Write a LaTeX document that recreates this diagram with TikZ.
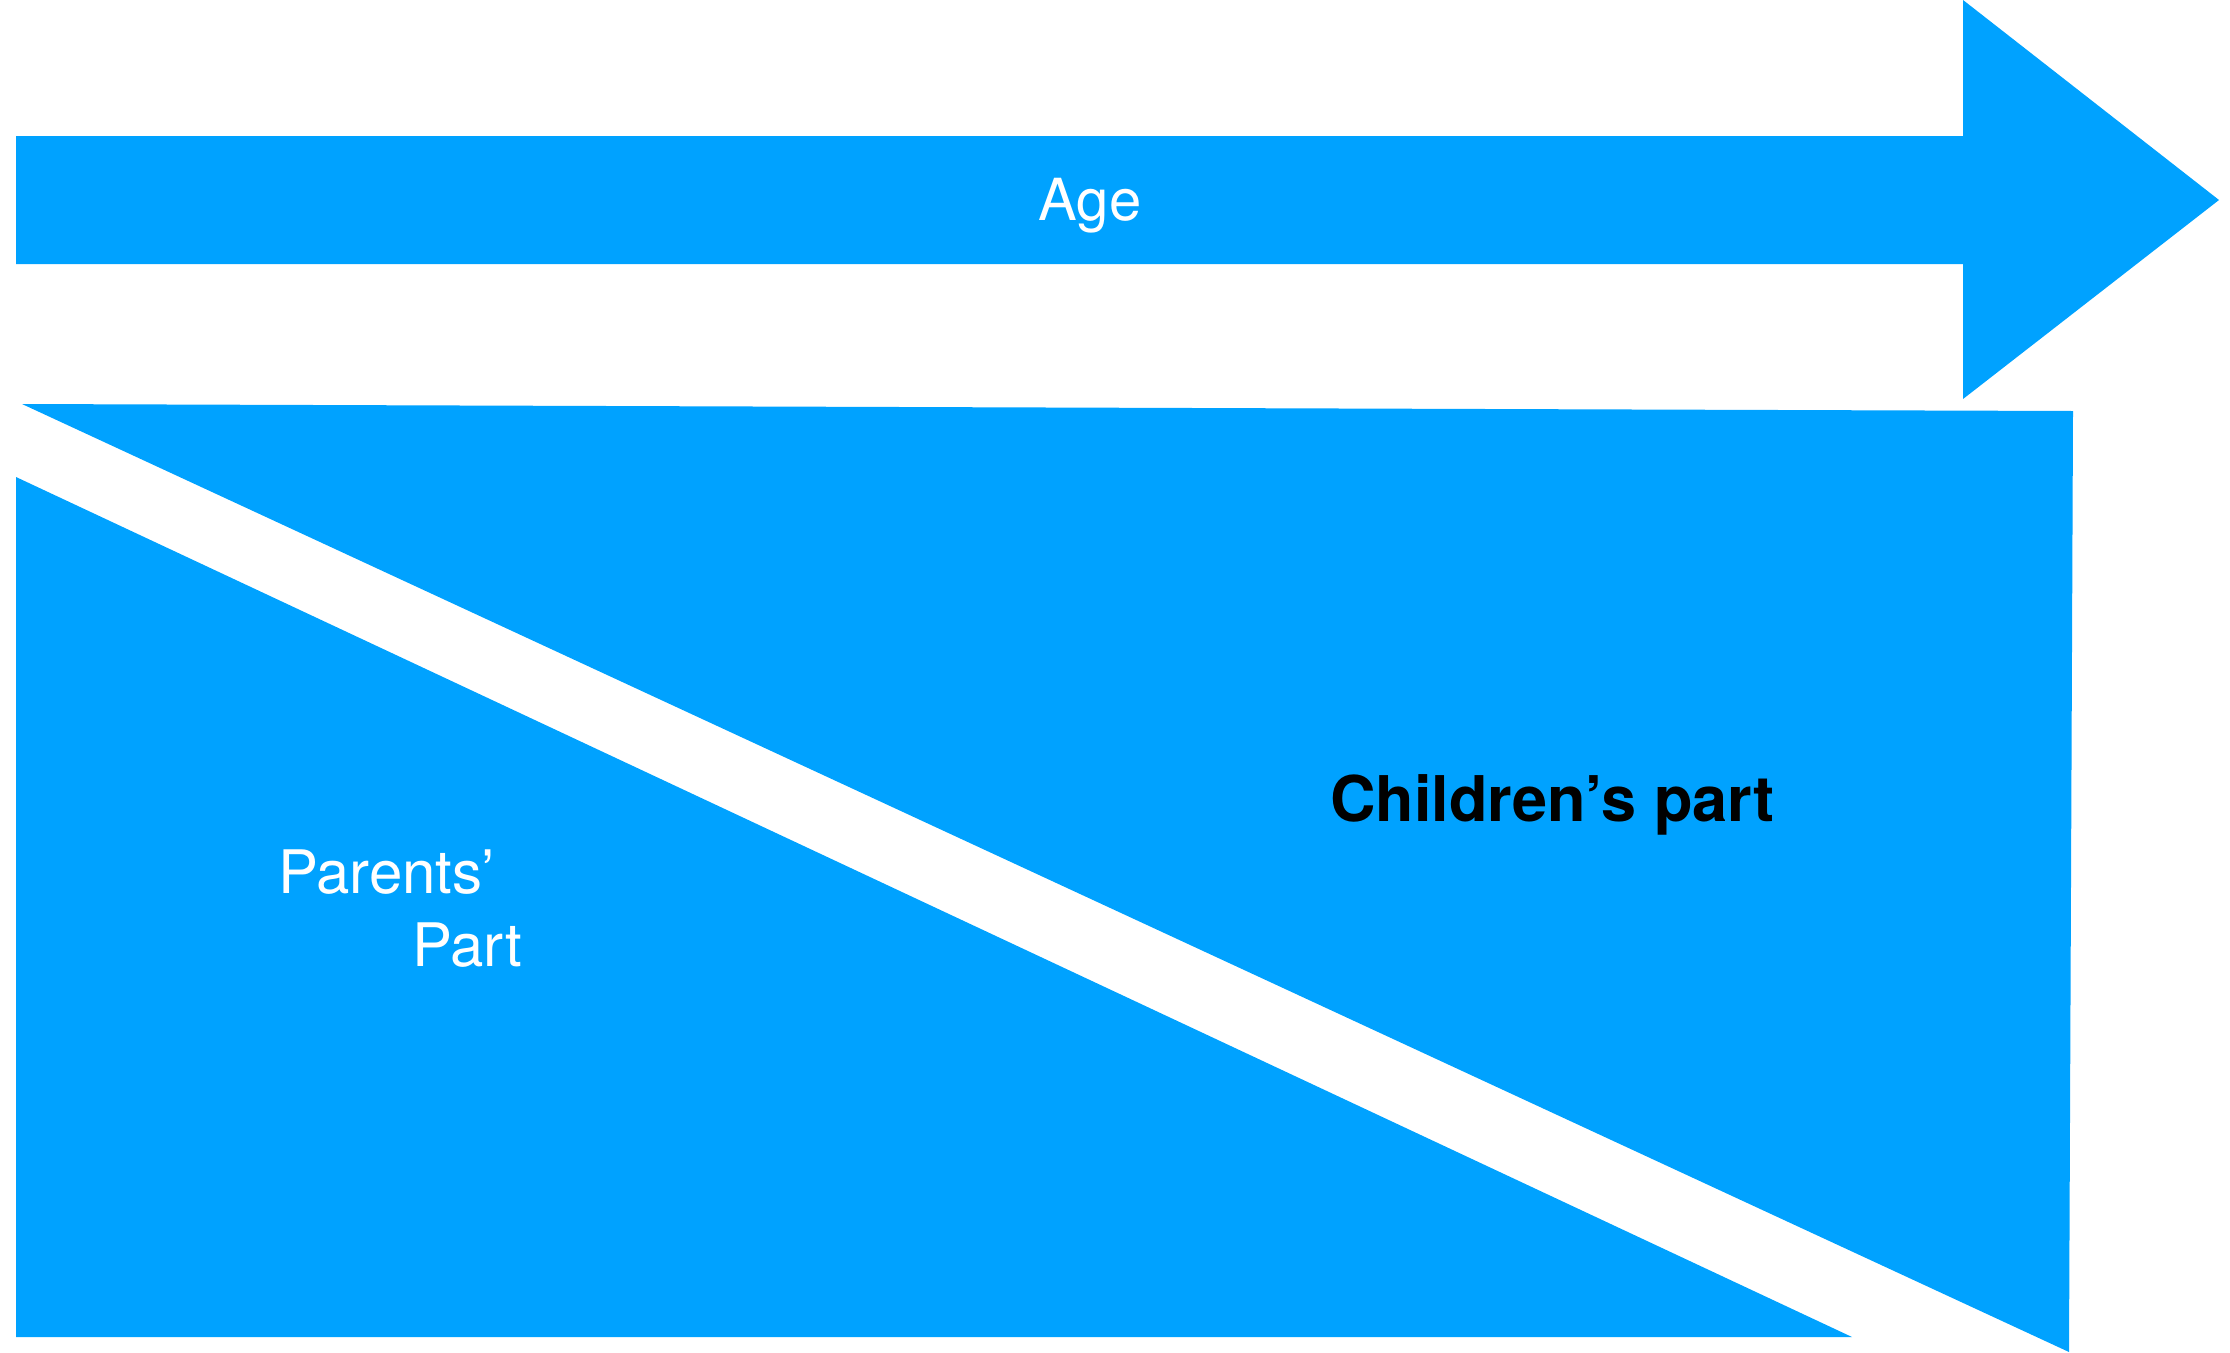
\documentclass[tikz,border=0pt]{standalone}
\usepackage{fontspec}
\setmainfont{TeX Gyre Heros}
\definecolor{skyblue}{RGB}{0,162,255}
\begin{document}
\begin{tikzpicture}[x=1pt,y=-1pt,
  lbl/.style={inner sep=0pt,anchor=base west}]
\useasboundingbox (0,0) rectangle (2230,1352);
% Age arrow
\fill[skyblue] (16,136) -- (1963,136) -- (1963,0) -- (2219,200) -- (1963,399) -- (1963,264) -- (16,264) -- cycle;
% upper (children) shape
\fill[skyblue] (22,404) -- (2073,411) -- (2069,1352) -- cycle;
% lower (parents) shape
\fill[skyblue] (16,477) -- (1852,1337) -- (16,1337) -- cycle;
% labels
\node[inner sep=0pt,anchor=base,text=white,font=\fontsize{58}{62}\selectfont] (age) at (1090,220) {Age};
\node[lbl,text=black,font=\fontsize{63}{67}\selectfont\bfseries] (children) at (1330,821) {Children’s part};
\node[lbl,text=white,font=\fontsize{60}{64}\selectfont] (parents) at (278,893) {Parents’};
\node[lbl,text=white,font=\fontsize{60}{64}\selectfont] (part) at (412,966) {Part};
\end{tikzpicture}
\end{document}
